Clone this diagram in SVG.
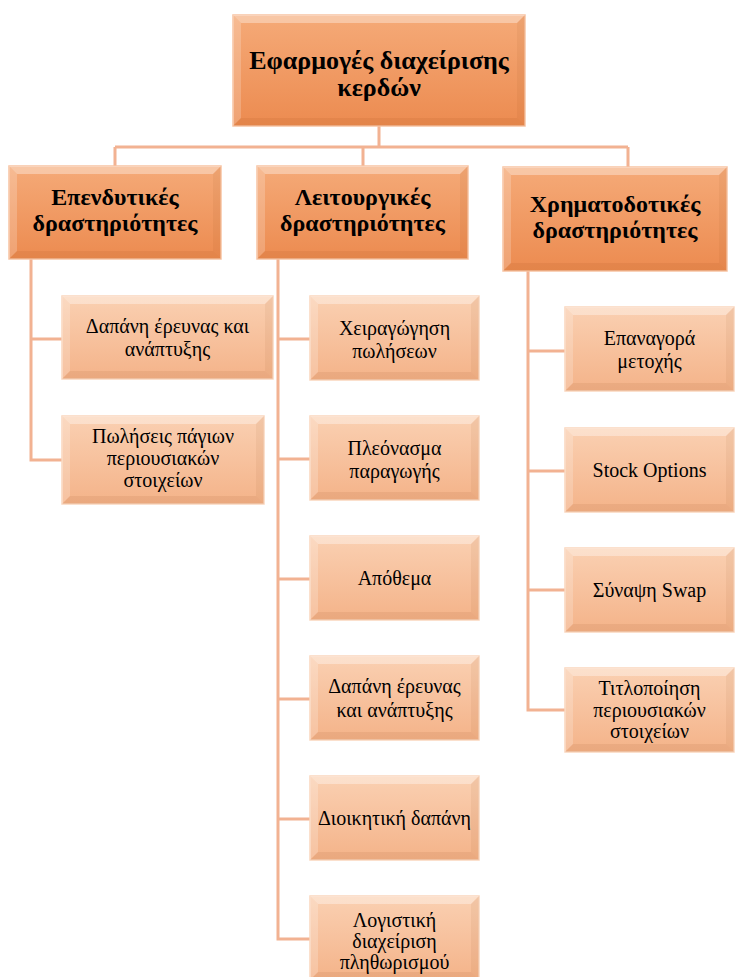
<svg xmlns="http://www.w3.org/2000/svg" width="738" height="977" viewBox="0 0 738 977">
<defs>
<linearGradient id="gDark" x1="0" y1="0" x2="0" y2="1">
<stop offset="0" stop-color="#f5aa78"/>
<stop offset="1" stop-color="#ec8b50"/>
</linearGradient>
<linearGradient id="gLight" x1="0" y1="0" x2="0" y2="1">
<stop offset="0" stop-color="#fad0b2"/>
<stop offset="1" stop-color="#f4b389"/>
</linearGradient>
</defs>
<style>
.dk{fill:url(#gDark);stroke:#f8c3a2;stroke-width:1.5}
.lt{fill:url(#gLight);stroke:#fad6bd;stroke-width:1.5}
.bt{fill:#ffffff;fill-opacity:0.35}
.bl{fill:#ffffff;fill-opacity:0.2}
.bb{fill:#7a3000;fill-opacity:0.08}
.br{fill:#7a3000;fill-opacity:0.06}
.conn{fill:none;stroke:#f2b292;stroke-width:3}
text{fill:#000;text-anchor:middle;font-family:'Liberation Serif','Times New Roman',Times,Tinos,'DejaVu Serif','Noto Serif',Georgia,serif}
.h0{font-size:26px;font-weight:bold}
.h1{font-size:24px;font-weight:bold}
.c{font-size:20px}
</style>
<rect width="738" height="977" fill="#ffffff"/>
<g id="connectors">
<path class="conn" d="M379,126 V147 M115,147 H628 M115,147 V166 M363,147 V166 M628,147 V167"/>
<path class="conn" d="M31,259 V460 H62 M31,339 H62"/>
<path class="conn" d="M278,259 V939 H310 M278,339 H310 M278,459 H310 M278,579 H310 M278,699 H310 M278,819 H310"/>
<path class="conn" d="M528,271 V710 H565 M528,351 H565 M528,471 H565 M528,590 H565"/>
</g>
<g id="n0">
<rect class="dk" x="233" y="15" width="292" height="111"/>
<polygon class="bt" points="233,15 525,15 517,23 241,23"/>
<polygon class="bl" points="233,15 241,23 241,118 233,126"/>
<polygon class="bb" points="233,126 241,118 517,118 525,126"/>
<polygon class="br" points="525,15 525,126 517,118 517,23"/>
<text class="h0" x="379" y="69">Εφαρμογές διαχείρισης</text>
<text class="h0" x="379" y="96">κερδών</text>
</g>
<g id="n1">
<rect class="dk" x="9" y="166" width="212" height="93"/>
<polygon class="bt" points="9,166 221,166 213,174 17,174"/>
<polygon class="bl" points="9,166 17,174 17,251 9,259"/>
<polygon class="bb" points="9,259 17,251 213,251 221,259"/>
<polygon class="br" points="221,166 221,259 213,251 213,174"/>
<text class="h1" x="115" y="205">Επενδυτικές</text>
<text class="h1" x="115" y="231">δραστηριότητες</text>
</g>
<g id="n2">
<rect class="dk" x="257" y="166" width="211" height="93"/>
<polygon class="bt" points="257,166 468,166 460,174 265,174"/>
<polygon class="bl" points="257,166 265,174 265,251 257,259"/>
<polygon class="bb" points="257,259 265,251 460,251 468,259"/>
<polygon class="br" points="468,166 468,259 460,251 460,174"/>
<text class="h1" x="362.5" y="205">Λειτουργικές</text>
<text class="h1" x="362.5" y="231">δραστηριότητες</text>
</g>
<g id="n3">
<rect class="dk" x="503" y="167" width="224" height="104"/>
<polygon class="bt" points="503,167 727,167 719,175 511,175"/>
<polygon class="bl" points="503,167 511,175 511,263 503,271"/>
<polygon class="bb" points="503,271 511,263 719,263 727,271"/>
<polygon class="br" points="727,167 727,271 719,263 719,175"/>
<text class="h1" x="615" y="212">Χρηματοδοτικές</text>
<text class="h1" x="615" y="238">δραστηριότητες</text>
</g>
<g id="l1">
<rect class="lt" x="62" y="296" width="211" height="83"/>
<polygon class="bt" points="62,296 273,296 265,304 70,304"/>
<polygon class="bl" points="62,296 70,304 70,371 62,379"/>
<polygon class="bb" points="62,379 70,371 265,371 273,379"/>
<polygon class="br" points="273,296 273,379 265,371 265,304"/>
<text class="c" x="167.5" y="333">Δαπάνη έρευνας και</text>
<text class="c" x="167.5" y="356">ανάπτυξης</text>
</g>
<g id="l2">
<rect class="lt" x="62" y="416" width="202" height="88"/>
<polygon class="bt" points="62,416 264,416 256,424 70,424"/>
<polygon class="bl" points="62,416 70,424 70,496 62,504"/>
<polygon class="bb" points="62,504 70,496 256,496 264,504"/>
<polygon class="br" points="264,416 264,504 256,496 256,424"/>
<text class="c" x="163" y="443">Πωλήσεις πάγιων</text>
<text class="c" x="163" y="465">περιουσιακών</text>
<text class="c" x="163" y="487">στοιχείων</text>
</g>
<g id="m1">
<rect class="lt" x="310" y="296" width="169" height="84"/>
<polygon class="bt" points="310,296 479,296 471,304 318,304"/>
<polygon class="bl" points="310,296 318,304 318,372 310,380"/>
<polygon class="bb" points="310,380 318,372 471,372 479,380"/>
<polygon class="br" points="479,296 479,380 471,372 471,304"/>
<text class="c" x="394.5" y="335">Χειραγώγηση</text>
<text class="c" x="394.5" y="358">πωλήσεων</text>
</g>
<g id="m2">
<rect class="lt" x="310" y="416" width="169" height="84"/>
<polygon class="bt" points="310,416 479,416 471,424 318,424"/>
<polygon class="bl" points="310,416 318,424 318,492 310,500"/>
<polygon class="bb" points="310,500 318,492 471,492 479,500"/>
<polygon class="br" points="479,416 479,500 471,492 471,424"/>
<text class="c" x="394.5" y="455">Πλεόνασμα</text>
<text class="c" x="394.5" y="478">παραγωγής</text>
</g>
<g id="m3">
<rect class="lt" x="310" y="536" width="169" height="84"/>
<polygon class="bt" points="310,536 479,536 471,544 318,544"/>
<polygon class="bl" points="310,536 318,544 318,612 310,620"/>
<polygon class="bb" points="310,620 318,612 471,612 479,620"/>
<polygon class="br" points="479,536 479,620 471,612 471,544"/>
<text class="c" x="394.5" y="585">Απόθεμα</text>
</g>
<g id="m4">
<rect class="lt" x="310" y="656" width="169" height="84"/>
<polygon class="bt" points="310,656 479,656 471,664 318,664"/>
<polygon class="bl" points="310,656 318,664 318,732 310,740"/>
<polygon class="bb" points="310,740 318,732 471,732 479,740"/>
<polygon class="br" points="479,656 479,740 471,732 471,664"/>
<text class="c" x="394.5" y="693">Δαπάνη έρευνας</text>
<text class="c" x="394.5" y="717">και ανάπτυξης</text>
</g>
<g id="m5">
<rect class="lt" x="310" y="776" width="169" height="84"/>
<polygon class="bt" points="310,776 479,776 471,784 318,784"/>
<polygon class="bl" points="310,776 318,784 318,852 310,860"/>
<polygon class="bb" points="310,860 318,852 471,852 479,860"/>
<polygon class="br" points="479,776 479,860 471,852 471,784"/>
<text class="c" x="394.5" y="825">Διοικητική δαπάνη</text>
</g>
<g id="m6">
<rect class="lt" x="310" y="896" width="169" height="84"/>
<polygon class="bt" points="310,896 479,896 471,904 318,904"/>
<polygon class="bl" points="310,896 318,904 318,972 310,980"/>
<polygon class="bb" points="310,980 318,972 471,972 479,980"/>
<polygon class="br" points="479,896 479,980 471,972 471,904"/>
<text class="c" x="394.5" y="927">Λογιστική</text>
<text class="c" x="394.5" y="948">διαχείριση</text>
<text class="c" x="394.5" y="969">πληθωρισμού</text>
</g>
<g id="r1">
<rect class="lt" x="565" y="307" width="169" height="84"/>
<polygon class="bt" points="565,307 734,307 726,315 573,315"/>
<polygon class="bl" points="565,307 573,315 573,383 565,391"/>
<polygon class="bb" points="565,391 573,383 726,383 734,391"/>
<polygon class="br" points="734,307 734,391 726,383 726,315"/>
<text class="c" x="649.5" y="345">Επαναγορά</text>
<text class="c" x="649.5" y="368">μετοχής</text>
</g>
<g id="r2">
<rect class="lt" x="565" y="428" width="169" height="84"/>
<polygon class="bt" points="565,428 734,428 726,436 573,436"/>
<polygon class="bl" points="565,428 573,436 573,504 565,512"/>
<polygon class="bb" points="565,512 573,504 726,504 734,512"/>
<polygon class="br" points="734,428 734,512 726,504 726,436"/>
<text class="c" x="649.5" y="477">Stock Options</text>
</g>
<g id="r3">
<rect class="lt" x="565" y="548" width="169" height="84"/>
<polygon class="bt" points="565,548 734,548 726,556 573,556"/>
<polygon class="bl" points="565,548 573,556 573,624 565,632"/>
<polygon class="bb" points="565,632 573,624 726,624 734,632"/>
<polygon class="br" points="734,548 734,632 726,624 726,556"/>
<text class="c" x="649.5" y="597">Σύναψη Swap</text>
</g>
<g id="r4">
<rect class="lt" x="565" y="668" width="169" height="84"/>
<polygon class="bt" points="565,668 734,668 726,676 573,676"/>
<polygon class="bl" points="565,668 573,676 573,744 565,752"/>
<polygon class="bb" points="565,752 573,744 726,744 734,752"/>
<polygon class="br" points="734,668 734,752 726,744 726,676"/>
<text class="c" x="649.5" y="695">Τιτλοποίηση</text>
<text class="c" x="649.5" y="717">περιουσιακών</text>
<text class="c" x="649.5" y="738">στοιχείων</text>
</g>
</svg>
